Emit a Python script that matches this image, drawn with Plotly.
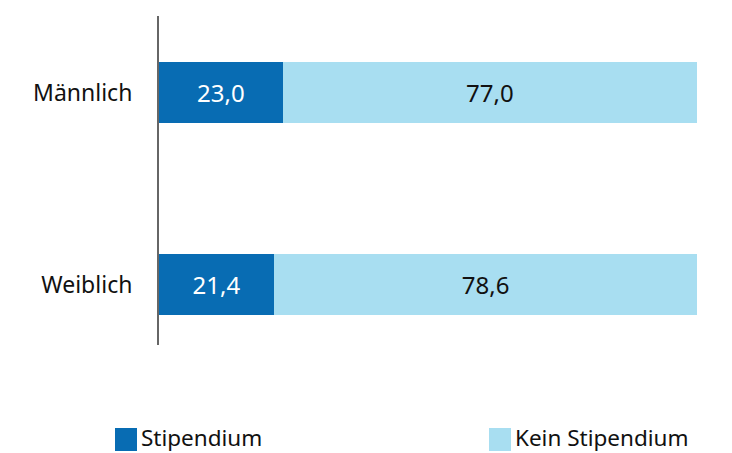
import plotly.graph_objects as go

categories = ["Weiblich", "Männlich"]
stipendium = [21.4, 23.0]
kein_stipendium = [78.6, 77.0]
series_names = ["Stipendium", "Kein Stipendium"]

dark = "#086cb3"
light = "#a8def1"
font_family = "Noto Sans, Open Sans, sans-serif"

def fmt(v):
    return f"{v:.1f}".replace(".", ",")

fig = go.Figure()
fig.add_trace(go.Bar(
    y=categories, x=stipendium, orientation="h", name=series_names[0],
    marker=dict(color=dark, line=dict(width=0)),
    text=[fmt(v) for v in stipendium], textposition="inside",
    insidetextanchor="middle", textfont=dict(color="white", size=24, family=font_family),
    width=0.318,
))
fig.add_trace(go.Bar(
    y=categories, x=kein_stipendium, orientation="h", name=series_names[1],
    marker=dict(color=light, line=dict(width=0)),
    text=[fmt(v) for v in kein_stipendium], textposition="inside",
    insidetextanchor="middle", textfont=dict(color="#111111", size=24, family=font_family),
    width=0.318,
))

# page offset (body margin) of 8px
OFF = 8
W, H = 732 - OFF, 453 - OFF
ml, mt = 159 - OFF, 16 - OFF
mr = 732 - 697
mb = 453 - 345
pw, ph = W - ml - mr, H - mt - mb

def px_x(x):
    return (x - OFF - ml) / pw

def px_y(y):
    return (H - mb - (y - OFF)) / ph

shapes = []
annotations = []
legend_items = [(115, series_names[0], dark), (489, series_names[1], light)]
for x0, name, col in legend_items:
    shapes.append(dict(type="rect", xref="paper", yref="paper",
                       x0=px_x(x0), x1=px_x(x0 + 22), y0=px_y(451), y1=px_y(428),
                       fillcolor=col, line=dict(width=0)))
    annotations.append(dict(xref="paper", yref="paper", x=px_x(x0 + 25), y=px_y(437),
                            text=name, showarrow=False, xanchor="left", yanchor="middle",
                            borderpad=0,
                            font=dict(size=22.5, color="#111111", family=font_family)))

fig.update_layout(
    barmode="stack",
    width=W, height=H,
    margin=dict(l=ml, r=mr, t=mt, b=mb),
    plot_bgcolor="white", paper_bgcolor="white",
    showlegend=False,
    uniformtext=dict(mode=False),
    font=dict(family=font_family, size=23, color="#111111"),
    xaxis=dict(range=[0, 100], showgrid=False, zeroline=False, showticklabels=False,
               showline=False, ticks=""),
    yaxis=dict(categoryorder="array", categoryarray=categories,
               range=[-0.315, 1.398], showgrid=False, zeroline=False,
               showline=True, linecolor="#666666", linewidth=2, ticks="",
               ticklabelstandoff=20, tickfont=dict(size=23, color="#111111")),
    shapes=shapes,
    annotations=annotations,
)

fig.write_html("out.html")
